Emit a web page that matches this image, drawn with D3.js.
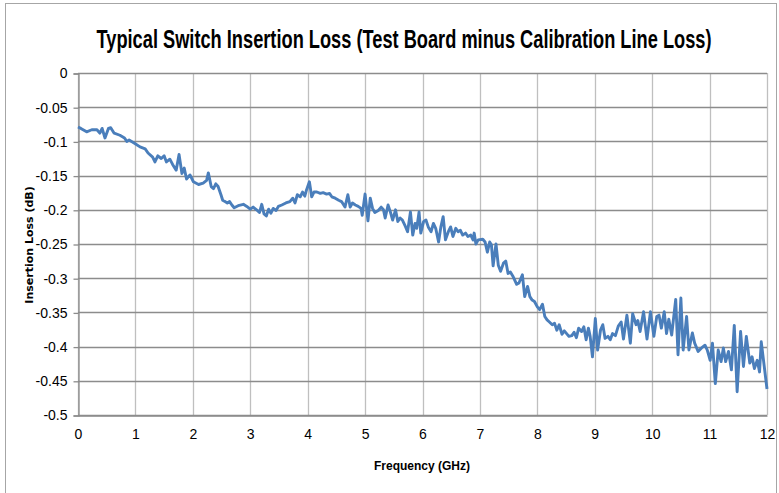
<!DOCTYPE html>
<html>
<head>
<meta charset="utf-8">
<script src="https://cdn.jsdelivr.net/npm/d3@7"></script>
<style>
  body { margin: 0; background: #fff; }
  svg { display: block; }
</style>
</head>
<body>
<div id="chart"></div>
<script>
// frequency (GHz) and insertion loss (dB)
var freq = [0, 0.05, 0.15, 0.24, 0.33, 0.38, 0.42, 0.47, 0.53, 0.57, 0.63, 0.73, 0.81, 0.85, 0.89, 0.99,
  1.08, 1.17, 1.22, 1.30, 1.34, 1.39, 1.45, 1.50, 1.54, 1.60, 1.65, 1.71, 1.76, 1.81, 1.85, 1.89, 1.95,
  2.01, 2.10, 2.18, 2.24, 2.27, 2.32,
  2.36, 2.40, 2.44, 2.49, 2.52, 2.56, 2.60, 2.64, 2.68, 2.72, 2.79, 2.88, 2.94, 3.00, 3.05, 3.11, 3.16,
  3.20, 3.24, 3.28, 3.32, 3.36, 3.40, 3.45, 3.49, 3.55, 3.62, 3.69, 3.74, 3.78, 3.82, 3.87, 3.91, 3.95,
  3.98, 4.03, 4.07, 4.11, 4.16, 4.22, 4.27, 4.33, 4.38, 4.42, 4.48, 4.54, 4.59,
  4.65, 4.70, 4.74, 4.78, 4.83, 4.88, 4.93, 4.95, 5.00, 5.05, 5.09, 5.13, 5.17, 5.23, 5.28, 5.32, 5.35,
  5.40, 5.44, 5.48, 5.53, 5.57, 5.61, 5.65, 5.70, 5.74, 5.79, 5.83, 5.87, 5.90, 5.94, 5.97, 6.02, 6.06,
  6.10, 6.15, 6.19, 6.23, 6.28, 6.32, 6.36, 6.40, 6.45, 6.49, 6.53, 6.58, 6.62, 6.66, 6.70, 6.75, 6.79,
  6.84, 6.88, 6.90, 6.93, 6.97,
  7.05, 7.09, 7.13, 7.17, 7.20, 7.23, 7.28, 7.32, 7.36, 7.41, 7.45, 7.49, 7.53, 7.58, 7.64, 7.68, 7.74,
  7.78, 7.83, 7.87, 7.91, 7.95, 8.00, 8.04, 8.09, 8.13, 8.17, 8.21, 8.26, 8.30, 8.34, 8.38, 8.43, 8.47,
  8.51, 8.55, 8.60, 8.64, 8.68, 8.72, 8.77, 8.81, 8.85, 8.89, 8.92, 8.96, 9.01, 9.05, 9.10, 9.14, 9.18,
  9.23, 9.27, 9.31, 9.36,
  9.41, 9.46, 9.50, 9.56, 9.62, 9.66, 9.72, 9.75, 9.79, 9.85, 9.91, 9.97, 10.03, 10.08, 10.12, 10.16,
  10.21, 10.25, 10.29, 10.34, 10.41, 10.45, 10.50, 10.54, 10.60, 10.64, 10.70, 10.74, 10.80, 10.86,
  10.92, 10.96, 11.01, 11.05, 11.10, 11.15, 11.20, 11.24, 11.28, 11.33, 11.38, 11.43, 11.48, 11.54,
  11.59, 11.64, 11.70, 11.74, 11.78, 11.83, 11.87, 11.90, 12.0];
var loss = [-0.079, -0.081, -0.086, -0.083, -0.083, -0.088, -0.081, -0.095, -0.081, -0.080, -0.088, -0.091, -0.095, -0.100, -0.098, -0.103,
  -0.108, -0.111, -0.117, -0.123, -0.130, -0.121, -0.125, -0.121, -0.130, -0.126, -0.134, -0.142, -0.119, -0.147, -0.139, -0.155, -0.149,
  -0.159, -0.163, -0.161, -0.157, -0.146, -0.166,
  -0.169, -0.162, -0.166, -0.178, -0.186, -0.188, -0.190, -0.188, -0.193, -0.197, -0.194, -0.192, -0.195, -0.199, -0.196, -0.200, -0.204,
  -0.192, -0.206, -0.209, -0.199, -0.205, -0.198, -0.201, -0.195, -0.193, -0.190, -0.188, -0.183, -0.190, -0.178, -0.181, -0.174, -0.180,
  -0.171, -0.159, -0.181, -0.174, -0.174, -0.176, -0.175, -0.177, -0.176, -0.181, -0.183, -0.186, -0.188,
  -0.196, -0.178, -0.196, -0.190, -0.193, -0.195, -0.198, -0.208, -0.177, -0.216, -0.183, -0.198, -0.204, -0.201, -0.196, -0.200, -0.212,
  -0.193, -0.203, -0.215, -0.200, -0.217, -0.212, -0.215, -0.224, -0.232, -0.203, -0.237, -0.220, -0.227, -0.203, -0.234, -0.217, -0.215,
  -0.225, -0.232, -0.220, -0.227, -0.247, -0.225, -0.210, -0.244, -0.232, -0.225, -0.239, -0.227, -0.232, -0.230, -0.237, -0.234, -0.239,
  -0.237, -0.244, -0.234, -0.250, -0.244,
  -0.243, -0.247, -0.262, -0.247, -0.251, -0.282, -0.250, -0.281, -0.290, -0.278, -0.275, -0.293, -0.291, -0.298, -0.309, -0.307, -0.295,
  -0.327, -0.312, -0.327, -0.332, -0.334, -0.342, -0.346, -0.338, -0.356, -0.361, -0.364, -0.368, -0.366, -0.376, -0.368, -0.382, -0.377,
  -0.381, -0.385, -0.384, -0.379, -0.387, -0.373, -0.378, -0.371, -0.390, -0.373, -0.385, -0.415, -0.359, -0.405, -0.376, -0.368, -0.388,
  -0.385, -0.390, -0.381, -0.384,
  -0.370, -0.364, -0.389, -0.354, -0.395, -0.352, -0.368, -0.362, -0.378, -0.349, -0.389, -0.349, -0.385, -0.356, -0.354, -0.373,
  -0.349, -0.381, -0.360, -0.383, -0.331, -0.412, -0.329, -0.405, -0.356, -0.405, -0.380, -0.395, -0.407, -0.402,
  -0.398, -0.405, -0.420, -0.395, -0.454, -0.405, -0.422, -0.402, -0.422, -0.407, -0.434, -0.369, -0.466, -0.378,
  -0.429, -0.385, -0.424, -0.415, -0.432, -0.420, -0.437, -0.393, -0.462];

var xTicks = [0, 1, 2, 3, 4, 5, 6, 7, 8, 9, 10, 11, 12];
var yTicks = [0, -0.05, -0.1, -0.15, -0.2, -0.25, -0.3, -0.35, -0.4, -0.45, -0.5];

var W = 779, H = 493;
var plotL = 78, plotR = 767, plotT = 73, plotB = 415;
var font = "'Liberation Sans Narrow', 'Liberation Sans', Arial, sans-serif";

var svg = d3.select("#chart").append("svg")
    .attr("width", W).attr("height", H);

// chart border
svg.append("rect")
    .attr("x", 5.5).attr("y", 3.5)
    .attr("width", 771).attr("height", 500)
    .attr("fill", "none").attr("stroke", "#a6a6a6").attr("stroke-width", 1);

var x = d3.scaleLinear().domain([0, 12]).range([plotL, plotR]);
var y = d3.scaleLinear().domain([-0.5, 0]).range([plotB, plotT]);

// vertical gridlines
svg.append("g").selectAll("line").data(xTicks).join("line")
    .attr("x1", function(d) { return Math.round(x(d)) + 0.5; })
    .attr("x2", function(d) { return Math.round(x(d)) + 0.5; })
    .attr("y1", plotT).attr("y2", plotB)
    .attr("stroke", "#bfbfbf").attr("stroke-width", 1.3);

// horizontal gridlines
svg.append("g").selectAll("line").data(yTicks).join("line")
    .attr("x1", plotL).attr("x2", plotR)
    .attr("y1", function(d) { return Math.round(y(d)) + 0.5; })
    .attr("y2", function(d) { return Math.round(y(d)) + 0.5; })
    .attr("stroke", "#8c8c8c").attr("stroke-width", 1.3);

// y axis
var yAxis = svg.append("g")
    .attr("transform", "translate(" + (plotL + 0.5) + ",0.5)")
    .call(d3.axisLeft(y).tickValues(yTicks).tickSize(5).tickPadding(6)
      .tickFormat(function(d) { return d === 0 ? "0" : String(d); }));
yAxis.select(".domain").attr("stroke", "#8c8c8c").attr("stroke-width", 1.3);
yAxis.selectAll(".tick line").attr("stroke", "#8c8c8c").attr("stroke-width", 1.3);
yAxis.selectAll("text").attr("font-family", font).attr("font-size", 14).attr("fill", "#000");

// x axis
var xAxis = svg.append("g")
    .attr("transform", "translate(0," + (plotB + 0.5) + ")")
    .call(d3.axisBottom(x).tickValues(xTicks).tickSize(0).tickPadding(14)
      .tickFormat(d3.format("d")));
xAxis.select(".domain").attr("stroke", "#8c8c8c").attr("stroke-width", 1.3);
xAxis.selectAll("text").attr("font-family", font).attr("font-size", 14).attr("fill", "#000");

// data line
var line = d3.line()
    .x(function(d) { return x(d[0]); })
    .y(function(d) { return y(d[1]); });

svg.append("path")
    .datum(d3.zip(freq, loss))
    .attr("d", line)
    .attr("fill", "none")
    .attr("stroke", "#4a7ebb")
    .attr("stroke-width", 2.9)
    .attr("stroke-linejoin", "round");

// title
svg.append("text")
    .attr("x", 404).attr("y", 48)
    .attr("text-anchor", "middle")
    .attr("font-family", font).attr("font-weight", "bold").attr("font-size", 25)
    .attr("textLength", 615).attr("lengthAdjust", "spacingAndGlyphs")
    .text("Typical Switch Insertion Loss (Test Board minus Calibration Line Loss)");

// axis titles
svg.append("text")
    .attr("x", 422).attr("y", 470)
    .attr("text-anchor", "middle")
    .attr("font-family", font).attr("font-weight", "bold").attr("font-size", 12)
    .text("Frequency (GHz)");

svg.append("text")
    .attr("transform", "translate(33,245) rotate(-90)")
    .attr("text-anchor", "middle")
    .attr("font-family", "'DejaVu Sans', sans-serif").attr("font-weight", "bold").attr("font-size", 11)
    .text("Insertion Loss (dB)");
</script>
</body>
</html>
